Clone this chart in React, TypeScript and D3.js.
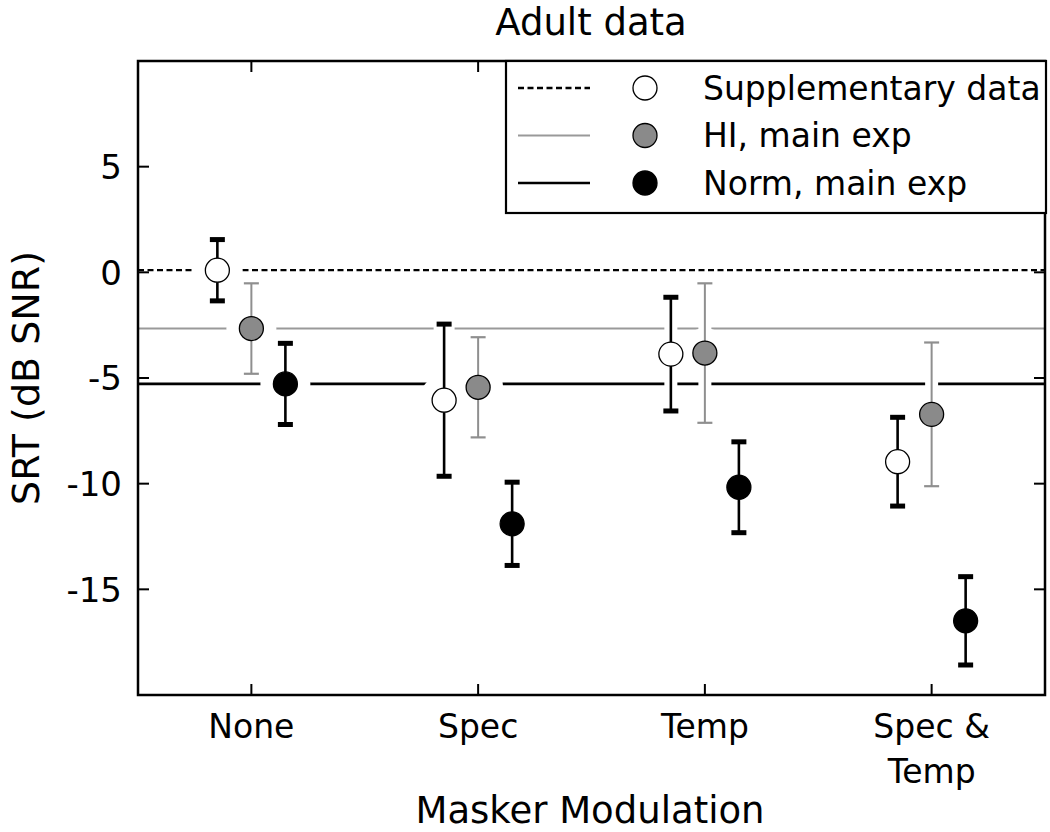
import React from "react";
import { scaleLinear } from "d3";

const categories = ["None", "Spec", "Temp", "Spec & Temp"];
const yTicks = [-15, -10, -5, 0, 5];

// SRT means and error half-widths (dB SNR)
const suppMean = [0.1, -6.05, -3.87, -8.96];
const suppErr = [1.45, 3.6, 2.69, 2.1];
const hiMean = [-2.66, -5.44, -3.82, -6.72];
const hiErr = [2.14, 2.37, 3.3, 3.4];
const normMean = [-5.28, -11.9, -10.17, -16.49];
const normErr = [1.92, 1.97, 2.15, 2.09];

const grey = "#8f8f8f";
const font = "DejaVu Sans";

const series = [
  { name: "Supplementary data", mean: suppMean, err: suppErr, offset: -0.15, fill: "#fff", bar: "#000", dash: "6 3.5", line: "#000", lw: 2.3, bw: 2.6, capH: 5 },
  { name: "HI, main exp", mean: hiMean, err: hiErr, offset: 0, fill: "#8a8a8a", bar: grey, dash: null, line: "#999", lw: 2, bw: 2, capH: 2.2 },
  { name: "Norm, main exp", mean: normMean, err: normErr, offset: 0.15, fill: "#000", bar: "#000", dash: null, line: "#000", lw: 2.6, bw: 2.6, capH: 5 },
];

const left = 138, right = 1045, top = 61, bottom = 695;
const x = scaleLinear().domain([0.5, 4.5]).range([left, right]);
const y = scaleLinear().domain([-20, 10]).range([bottom, top]);

const capW = 7.5;
const r = 12;

const App = () => {
  return (
    <svg width={1050} height={832} style={{ display: "block", position: "absolute", left: 0, top: 0 }}>
      <rect width={1050} height={832} fill="#fff" />

      {/* reference lines at the "None" values */}
      {series.map((s) => (
        <line key={s.name} x1={left} x2={right} y1={y(s.mean[0])} y2={y(s.mean[0])}
          stroke={s.line} strokeWidth={s.lw} strokeDasharray={s.dash || undefined} />
      ))}

      {/* white halos */}
      {series.map((s) =>
        s.mean.map((m, i) => {
          const cx = x(i + 1 + s.offset);
          const y0 = y(m + s.err[i]);
          const y1 = y(m - s.err[i]);
          return (
            <g key={s.name + "h" + i}>
              <line x1={cx} x2={cx} y1={y0} y2={y1} stroke="#fff" strokeWidth={13} />
              <line x1={cx - capW - 3} x2={cx + capW + 3} y1={y0} y2={y0} stroke="#fff" strokeWidth={s.capH + 8} />
              <line x1={cx - capW - 3} x2={cx + capW + 3} y1={y1} y2={y1} stroke="#fff" strokeWidth={s.capH + 8} />
              <circle cx={cx} cy={y(m)} r={25} fill="#fff" />
            </g>
          );
        })
      )}

      {/* error bars and markers */}
      {series.map((s) =>
        s.mean.map((m, i) => {
          const cx = x(i + 1 + s.offset);
          const y0 = y(m + s.err[i]);
          const y1 = y(m - s.err[i]);
          return (
            <g key={s.name + i}>
              <line x1={cx} x2={cx} y1={y0} y2={y1} stroke={s.bar} strokeWidth={s.bw} />
              <line x1={cx - capW} x2={cx + capW} y1={y0} y2={y0} stroke={s.bar} strokeWidth={s.capH} />
              <line x1={cx - capW} x2={cx + capW} y1={y1} y2={y1} stroke={s.bar} strokeWidth={s.capH} />
              <circle cx={cx} cy={y(m)} r={r} fill={s.fill} stroke="#000" strokeWidth={1.3} />
            </g>
          );
        })
      )}

      {/* frame and ticks */}
      <rect x={left} y={top} width={right - left} height={bottom - top} fill="none" stroke="#000" strokeWidth={2.5} />
      {categories.map((c, i) => (
        <g key={c}>
          <line x1={x(i + 1)} x2={x(i + 1)} y1={bottom} y2={bottom - 11} stroke="#000" strokeWidth={2} />
          <line x1={x(i + 1)} x2={x(i + 1)} y1={top} y2={top + 11} stroke="#000" strokeWidth={2} />
        </g>
      ))}
      {yTicks.map((t) => (
        <g key={t}>
          <line x1={left} x2={left + 11} y1={y(t)} y2={y(t)} stroke="#000" strokeWidth={2} />
          <line x1={right} x2={right - 11} y1={y(t)} y2={y(t)} stroke="#000" strokeWidth={2} />
          <text x={122} y={y(t)} dy="0.36em" textAnchor="end" fontFamily={font} fontSize={34}>{t}</text>
        </g>
      ))}

      {/* x tick labels */}
      {categories.map((c, i) => {
        const lines = c === "Spec & Temp" ? ["Spec &", "Temp"] : [c];
        return lines.map((l, j) => (
          <text key={c + j} x={x(i + 1)} y={738 + j * 45} textAnchor="middle" fontFamily={font} fontSize={33}>{l}</text>
        ));
      })}

      {/* titles */}
      <text x={591} y={35} textAnchor="middle" fontFamily={font} fontSize={37}>Adult data</text>
      <text x={590} y={823} textAnchor="middle" fontFamily={font} fontSize={37}>Masker Modulation</text>
      <text transform={`translate(39,${(top + bottom) / 2}) rotate(-90)`} textAnchor="middle" fontFamily={font} fontSize={38}>SRT (dB SNR)</text>

      {/* legend */}
      <rect x={506} y={top} width={540} height={152} fill="#fff" stroke="#000" strokeWidth={2.2} />
      {series.map((s, i) => {
        const ly = 88 + i * 47.5;
        return (
          <g key={s.name + "leg"}>
            <line x1={518} x2={590} y1={ly} y2={ly} stroke={s.line} strokeWidth={s.lw} strokeDasharray={s.dash || undefined} />
            <circle cx={645} cy={ly} r={r} fill={s.fill} stroke="#000" strokeWidth={1.3} />
            <text x={703} y={ly} dy="0.36em" fontFamily={font} fontSize={33}>{s.name}</text>
          </g>
        );
      })}
    </svg>
  );
};

export default App;
